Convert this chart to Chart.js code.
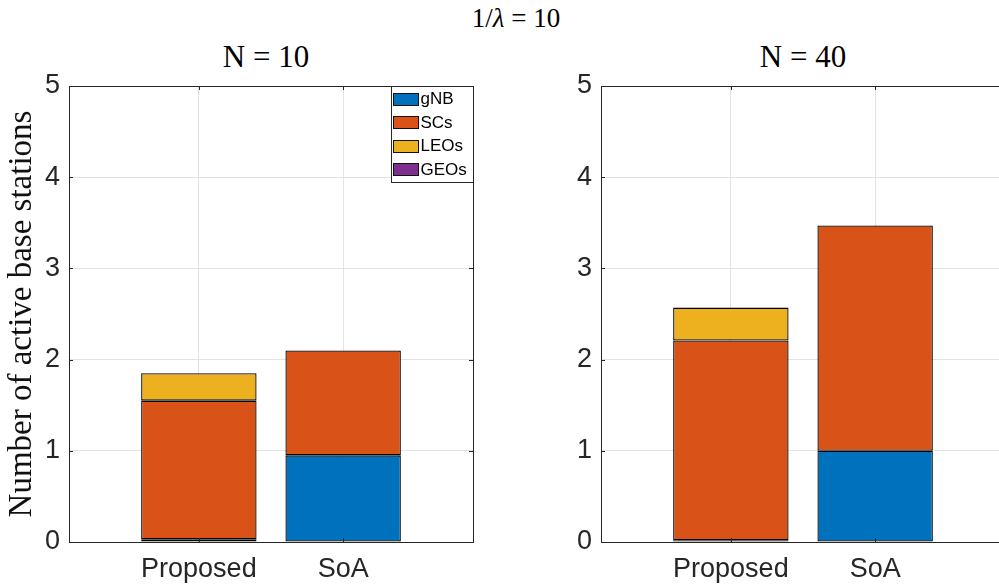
<!DOCTYPE html>
<html>
<head>
<meta charset="utf-8">
<script src="https://cdn.jsdelivr.net/npm/chart.js@4/dist/chart.umd.min.js"></script>
<style>
  html, body { margin: 0; padding: 0; background: #fff; width: 999px; height: 588px; overflow: hidden; }
  .wrap { position: relative; width: 999px; height: 588px; overflow: hidden; }
  canvas { position: absolute; top: 0; }
  .ttl { position: absolute; font-family: "Liberation Serif", "Times New Roman", serif; color: #000; white-space: nowrap; transform: translateX(-50%); }
  .sup { font-size: 27px; top: 3px; left: 516px; }
  .sub { font-size: 31px; top: 39px; }
</style>
</head>
<body>
<div class="wrap">
  <div class="ttl sup">1/<i>λ</i> = 10</div>
  <div class="ttl sub" style="left:266px">N = 10</div>
  <div class="ttl sub" style="left:803px">N = 40</div>
  <canvas id="left" width="490" height="588" style="left:0px"></canvas>
  <canvas id="right" width="490" height="588" style="left:532px"></canvas>
</div>
<script>
// Categories on the x axis and the stacked series
const categories = ['Proposed', 'SoA'];
const seriesNames = ['gNB', 'SCs', 'LEOs', 'GEOs'];
const seriesColors = ['#0072BD', '#D95319', '#EDB120', '#7E2F8E'];
const yTicks = [0, 1, 2, 3, 4, 5];

// N = 10
const gNB_N10  = [0.03, 0.95];
const SCs_N10  = [1.52, 1.15];
const LEOs_N10 = [0.30, 0.00];
const GEOs_N10 = [0.00, 0.00];

// N = 40
const gNB_N40  = [0.02, 1.00];
const SCs_N40  = [2.19, 2.47];
const LEOs_N40 = [0.36, 0.00];
const GEOs_N40 = [0.00, 0.00];

const AXIS_COLOR = '#262626';
const GRID_COLOR = '#e3e3e3';
const SANS = '"Liberation Sans", Arial, Helvetica, sans-serif';
const SERIF = '"Liberation Serif", "Times New Roman", serif';

function makeDatasets(series) {
  return series.map((vals, s) => ({
    label: seriesNames[s],
    data: vals.map((v, i) => ({ x: i + 1, y: v })),
    backgroundColor: seriesColors[s],
    borderColor: '#000',
    borderWidth: 1.3,
    borderSkipped: false,
    barPercentage: 0.8,
    categoryPercentage: 1.0
  }));
}

// Box around the plotting area with small inward tick marks
const axesBox = {
  id: 'axesBox',
  afterDatasetsDraw(chart) {
    const { ctx, chartArea: a, scales } = chart;
    ctx.save();
    ctx.strokeStyle = AXIS_COLOR;
    ctx.lineWidth = 1;
    ctx.strokeRect(Math.round(a.left) + 0.5, Math.round(a.top) + 0.5,
                   Math.round(a.right - a.left), Math.round(a.bottom - a.top));
    ctx.beginPath();
    scales.y.ticks.forEach(t => {
      const y = Math.round(scales.y.getPixelForValue(t.value)) + 0.5;
      ctx.moveTo(a.left, y); ctx.lineTo(a.left + 4, y);
      ctx.moveTo(a.right, y); ctx.lineTo(a.right - 4, y);
    });
    scales.x.ticks.forEach(t => {
      const x = Math.round(scales.x.getPixelForValue(t.value)) + 0.5;
      ctx.moveTo(x, a.bottom); ctx.lineTo(x, a.bottom - 4);
      ctx.moveTo(x, a.top); ctx.lineTo(x, a.top + 4);
    });
    ctx.stroke();
    ctx.restore();
  }
};

// Legend drawn inside the top-right corner of the plotting area
const insideLegend = {
  id: 'insideLegend',
  afterDraw(chart, args, opts) {
    if (!opts.show) return;
    const { ctx, chartArea: a } = chart;
    const ds = chart.data.datasets;
    const boxW = 82, rowH = 23.5, boxH = 96;
    const x0 = Math.round(a.right - boxW) + 0.5, y0 = Math.round(a.top) + 0.5;
    ctx.save();
    ctx.fillStyle = '#fff';
    ctx.fillRect(x0, y0, boxW, boxH);
    ctx.strokeStyle = AXIS_COLOR;
    ctx.lineWidth = 1;
    ctx.strokeRect(x0, y0, boxW, boxH);
    ctx.font = '17px ' + SANS;
    ctx.textBaseline = 'middle';
    ctx.textAlign = 'left';
    ds.forEach((d, i) => {
      const cy = y0 + 12 + i * rowH;
      ctx.fillStyle = d.backgroundColor;
      ctx.fillRect(x0 + 2, Math.round(cy - 6), 25, 12);
      ctx.strokeStyle = '#111';
      ctx.strokeRect(x0 + 2, Math.round(cy - 6) + 0.5, 25, 12);
      ctx.fillStyle = '#000';
      ctx.fillText(d.label, x0 + 29, cy + 1);
    });
    ctx.restore();
  }
};

function makeChart(id, series, showLegend) {
  return new Chart(document.getElementById(id), {
    type: 'bar',
    data: { datasets: makeDatasets(series) },
    plugins: [axesBox, insideLegend],
    options: {
      responsive: false,
      animation: false,
      layout: { padding: { top: 86, right: 17, bottom: 0, left: 0 } },
      plugins: {
        legend: { display: false },
        tooltip: { enabled: false },
        insideLegend: { show: showLegend }
      },
      scales: {
        x: {
          type: 'linear',
          stacked: true,
          offset: false,
          min: 0.1,
          max: 2.9,
          afterBuildTicks(scale) { scale.ticks = categories.map((c, i) => ({ value: i + 1 })); },
          afterFit(scale) { scale.height = 46; },
          ticks: {
            callback: (v) => categories[v - 1],
            font: { family: SANS, size: 27 },
            color: AXIS_COLOR,
            padding: 11,
            maxRotation: 0,
            autoSkip: false
          },
          grid: { color: GRID_COLOR, drawTicks: false, offset: false },
          border: { display: false }
        },
        y: {
          stacked: true,
          min: yTicks[0],
          max: yTicks[yTicks.length - 1],
          afterBuildTicks(scale) { scale.ticks = yTicks.map(v => ({ value: v })); },
          afterFit(scale) { scale.width = 69; },
          ticks: {
            font: { family: SANS, size: 27 },
            color: AXIS_COLOR,
            padding: 9
          },
          grid: { color: GRID_COLOR, drawTicks: false },
          border: { display: false },
          title: {
            display: id === 'left',
            text: 'Number of active base stations',
            font: { family: SERIF, size: 33 },
            color: '#111',
            padding: { top: 3, bottom: 0 }
          }
        }
      }
    }
  });
}

makeChart('left', [gNB_N10, SCs_N10, LEOs_N10, GEOs_N10], true);
makeChart('right', [gNB_N40, SCs_N40, LEOs_N40, GEOs_N40], false);
</script>
</body>
</html>
